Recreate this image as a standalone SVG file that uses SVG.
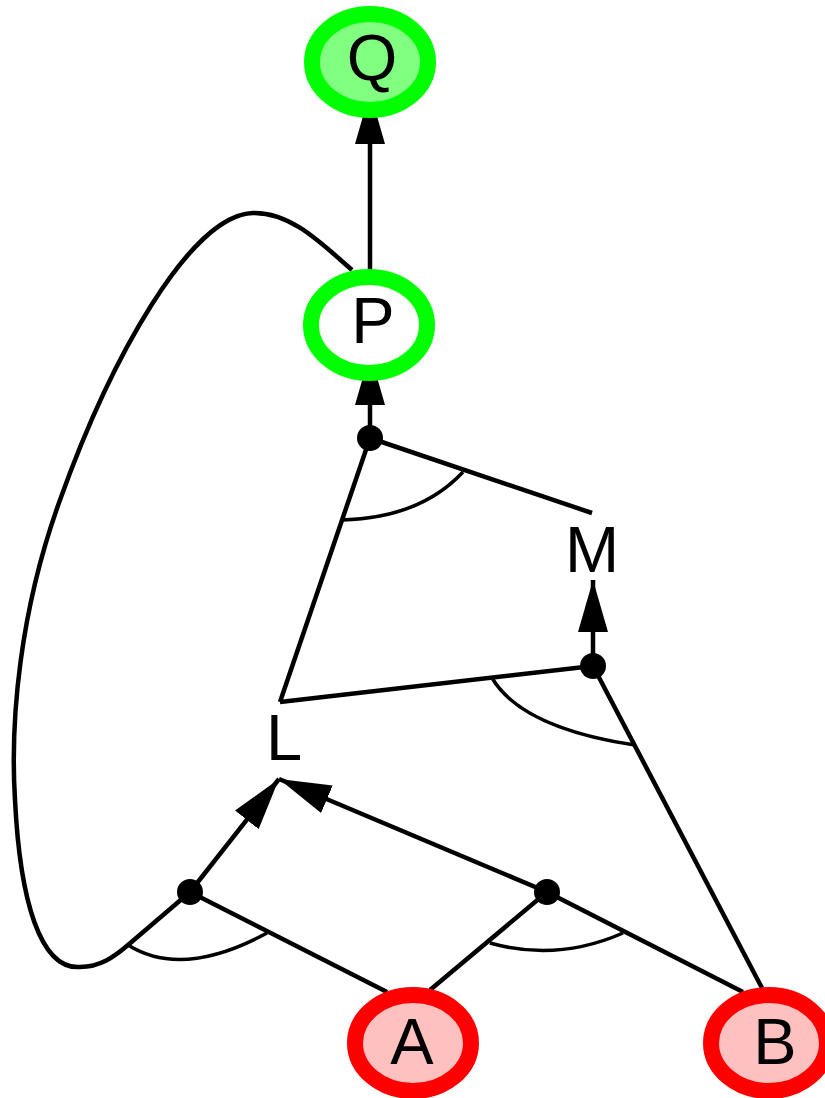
<svg xmlns="http://www.w3.org/2000/svg" width="825" height="1098" viewBox="0 0 825 1098">
<style>
.e{fill:none;stroke:#000;stroke-width:4.5}
.arc{fill:none;stroke:#000;stroke-width:3.5}
.dot{fill:#000}
.lbl{font-family:"Liberation Sans",Arial,sans-serif;font-size:65px;fill:#000;text-anchor:middle}
.out{stroke:#00ff00;stroke-width:16}
.inp{fill:#ffc0c0;stroke:#ff0000;stroke-width:16}
</style>
<defs>
<marker id="ah" viewBox="0 -15 52 30" refX="52" refY="0" markerWidth="52" markerHeight="30" markerUnits="userSpaceOnUse" orient="auto">
<path d="M0,-15 L52,0 L0,15 z" fill="#000"/>
</marker>
</defs>
<g id="connectors">
<line class="e" x1="370" y1="285" x2="370" y2="92" marker-end="url(#ah)"/>
<line class="e" x1="370" y1="438" x2="370" y2="353" marker-end="url(#ah)"/>
<line class="e" x1="370" y1="438" x2="280" y2="702"/>
<line class="e" x1="370" y1="438" x2="592" y2="513"/>
<path class="arc" d="M342,520 Q420,518 463,472"/>
<line class="e" x1="593" y1="666" x2="593" y2="580" marker-end="url(#ah)"/>
<line class="e" x1="280" y1="702" x2="593" y2="666"/>
<line class="e" x1="593" y1="666" x2="762" y2="988"/>
<path class="arc" d="M492,678 Q522,728 635,745"/>
<line class="e" x1="190" y1="892" x2="279" y2="779" marker-end="url(#ah)"/>
<line class="e" x1="547" y1="892" x2="279" y2="779" marker-end="url(#ah)"/>
<path class="e" d="M352,270 C320,242 290,212 253,213 C190,215 110,360 60,500 C20,610 10,720 15,800 C20,900 40,970 80,967 C100,967 114,957 128,945 L190,892"/>
<line class="e" x1="190" y1="892" x2="387" y2="992"/>
<path class="arc" d="M128,945 Q182,979 267,933"/>
<line class="e" x1="547" y1="892" x2="430" y2="990"/>
<line class="e" x1="547" y1="892" x2="743" y2="992"/>
<path class="arc" d="M490,943 Q557,962 623,933"/>
</g>
<g id="jP"><circle class="dot" cx="370" cy="438" r="13"/></g>
<g id="jM"><circle class="dot" cx="593" cy="666" r="13"/></g>
<g id="jL1"><circle class="dot" cx="190" cy="892" r="13"/></g>
<g id="jL2"><circle class="dot" cx="547" cy="892" r="13"/></g>
<g id="Q"><ellipse class="out" cx="370" cy="62" rx="58" ry="48" fill="#80ff80"/><text class="lbl" x="372" y="80">Q</text></g>
<g id="P"><ellipse class="out" cx="369" cy="325" rx="58" ry="48" fill="#ffffff"/><text class="lbl" x="373" y="343">P</text></g>
<g id="M"><text class="lbl" x="592" y="572">M</text></g>
<g id="L"><text class="lbl" x="284" y="760">L</text></g>
<g id="A"><ellipse class="inp" cx="413" cy="1043" rx="58" ry="48"/><text class="lbl" x="412" y="1064">A</text></g>
<g id="B"><ellipse class="inp" cx="769" cy="1043" rx="58" ry="48"/><text class="lbl" x="775" y="1064">B</text></g>
</svg>
